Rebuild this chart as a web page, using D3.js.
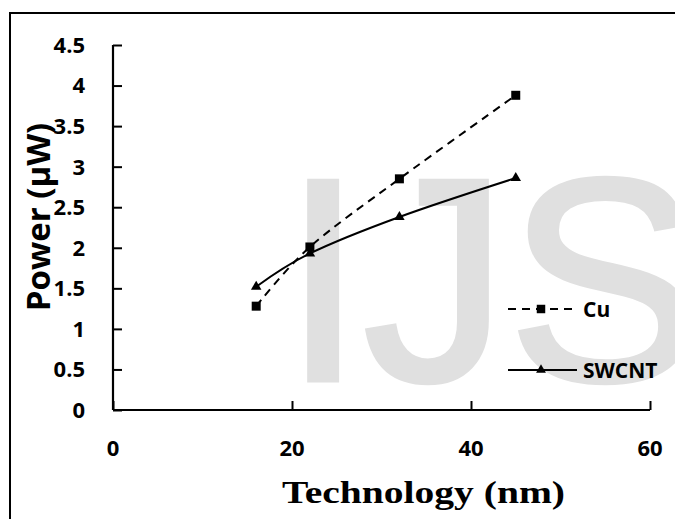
<!DOCTYPE html>
<html>
<head>
<meta charset="utf-8">
<script src="https://cdn.jsdelivr.net/npm/d3@7"></script>
<style>
  html, body { margin: 0; padding: 0; background: #fff; }
  svg { display: block; }
</style>
</head>
<body>
<svg id="chart" width="675" height="519"></svg>
<script>
// ---- data ----
const technology = [16, 22, 32, 45];
const cuPower = [1.28, 2.01, 2.85, 3.88];
const swcntPower = [1.52, 1.93, 2.38, 2.86];
const seriesNames = ["Cu", "SWCNT"];
const xTicks = [0, 20, 40, 60];
const yTicks = [0, 0.5, 1, 1.5, 2, 2.5, 3, 3.5, 4, 4.5];
const xTitle = "Technology (nm)";
const yTitle = "Power (µW)";
const watermark = "IJS";

const svg = d3.select("#chart");

// outer frame (extends past right/bottom edges)
svg.append("rect")
  .attr("x", 10).attr("y", 13).attr("width", 720).attr("height", 600)
  .attr("fill", "#fff").attr("stroke", "#000").attr("stroke-width", 2);

// watermark
svg.append("text")
  .attr("x", 283).attr("y", 380)
  .attr("font-family", "Liberation Sans, Arial, sans-serif")
  .attr("font-size", 289)
  .attr("fill", "#e0e0e0")
  .attr("stroke", "#e0e0e0").attr("stroke-width", 5)
  .text(watermark);

const x = d3.scaleLinear().domain([0, 60]).range([113, 650]);
const y = d3.scaleLinear().domain([0, 4.5]).range([410, 45]);

const font = "'Open Sans', 'DejaVu Sans', sans-serif";

// axes
const yAxis = svg.append("g").attr("transform", `translate(${x(0)},0)`)
  .call(d3.axisRight(y).tickValues(yTicks).tickSize(9).tickFormat(""));
const xAxis = svg.append("g").attr("transform", `translate(0,${y(0)})`)
  .call(d3.axisTop(x).tickValues(xTicks).tickSize(9).tickFormat(""));
[xAxis, yAxis].forEach(g => {
  g.select(".domain").attr("stroke", "#000").attr("stroke-width", 2.2);
  g.selectAll(".tick line").attr("stroke", "#000").attr("stroke-width", 2);
});
yAxis.select(".domain").attr("d", `M0,${y(4.5)}V${y(0)}`);
xAxis.select(".domain").attr("d", `M${x(0)},0H${x(60)}`);

// tick labels
svg.append("g").selectAll("text").data(yTicks).join("text")
  .attr("x", 85).attr("y", d => y(d))
  .attr("dy", "0.36em")
  .attr("text-anchor", "end")
  .attr("font-family", font).attr("font-weight", 700).attr("font-size", 22)
  .text(d => d);
svg.append("g").selectAll("text").data(xTicks).join("text")
  .attr("x", d => x(d)).attr("y", 456)
  .attr("text-anchor", "middle")
  .attr("font-family", font).attr("font-weight", 700).attr("font-size", 22)
  .text(d => d);

// axis titles
svg.append("text")
  .attr("transform", "translate(50,217) rotate(-90)")
  .attr("text-anchor", "middle")
  .attr("font-family", font).attr("font-weight", 700).attr("font-size", 33)
  .text(yTitle);
svg.append("text")
  .attr("x", 282).attr("y", 503)
  .attr("font-family", "'Liberation Serif', 'DejaVu Serif', serif")
  .attr("font-weight", "bold").attr("font-size", 31)
  .attr("textLength", 283).attr("lengthAdjust", "spacingAndGlyphs")
  .text(xTitle);

// series
const cuData = technology.map((t, i) => [t, cuPower[i]]);
const swData = technology.map((t, i) => [t, swcntPower[i]]);
const line = d3.line().x(d => x(d[0])).y(d => y(d[1])).curve(d3.curveCardinal.tension(0));

svg.append("path").datum(cuData).attr("d", line)
  .attr("fill", "none").attr("stroke", "#000").attr("stroke-width", 2)
  .attr("stroke-dasharray", "8,6");
svg.append("path").datum(swData).attr("d", line)
  .attr("fill", "none").attr("stroke", "#000").attr("stroke-width", 2);

const sq = d3.symbol().type(d3.symbolSquare).size(81);
const tri = d3.symbol().type(d3.symbolTriangle).size(48);

svg.append("g").selectAll("path").data(swData).join("path")
  .attr("d", tri).attr("transform", d => `translate(${x(d[0])},${y(d[1])})`)
  .attr("fill", "#000");
svg.append("g").selectAll("path").data(cuData).join("path")
  .attr("d", sq).attr("transform", d => `translate(${x(d[0])},${y(d[1])})`)
  .attr("fill", "#000");

// legend
const legendY = [309, 370];
const lg = svg.append("g");
lg.append("line").attr("x1", 508).attr("x2", 577).attr("y1", legendY[0]).attr("y2", legendY[0])
  .attr("stroke", "#000").attr("stroke-width", 2).attr("stroke-dasharray", "8,6");
lg.append("path").attr("d", d3.symbol().type(d3.symbolSquare).size(72))
  .attr("transform", `translate(541,${legendY[0]})`).attr("fill", "#000");
lg.append("line").attr("x1", 508).attr("x2", 577).attr("y1", legendY[1]).attr("y2", legendY[1])
  .attr("stroke", "#000").attr("stroke-width", 2);
lg.append("path").attr("d", d3.symbol().type(d3.symbolTriangle).size(42))
  .attr("transform", `translate(541,${legendY[1]})`).attr("fill", "#000");
lg.selectAll("text").data(seriesNames).join("text")
  .attr("x", 583).attr("y", (d, i) => legendY[i])
  .attr("dy", "0.36em")
  .attr("font-family", font).attr("font-weight", 700).attr("font-size", 21)
  .text(d => d);
</script>
</body>
</html>
